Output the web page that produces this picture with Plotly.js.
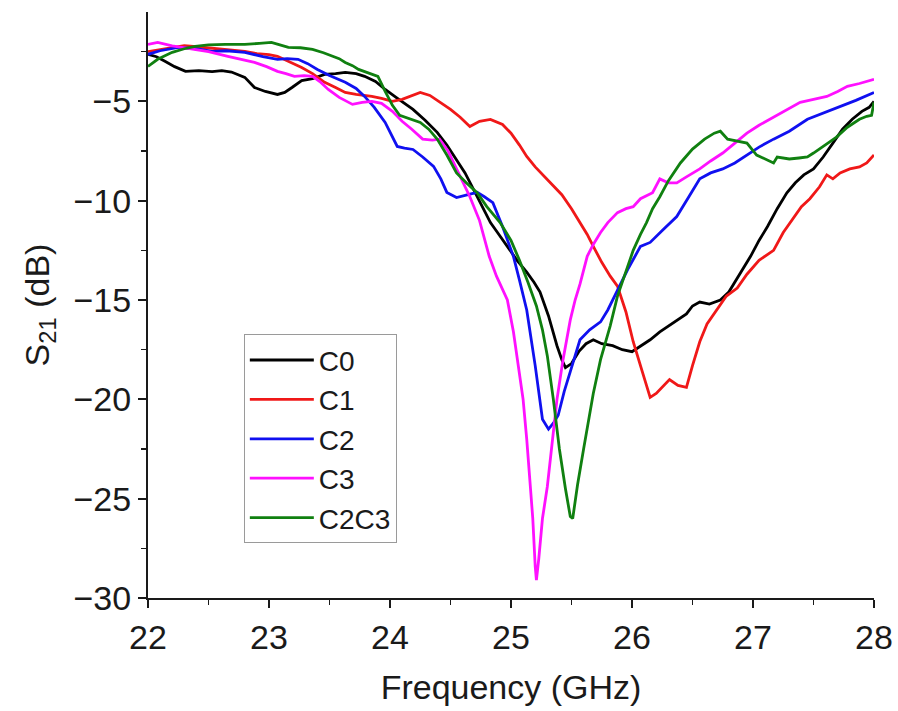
<!DOCTYPE html>
<html>
<head>
<meta charset="utf-8">
<script src="https://cdn.plot.ly/plotly-3.0.1.min.js"></script>
<style>html,body{margin:0;padding:0;background:#fff;}#chart{width:898px;height:711px;}</style>
</head>
<body>
<div id="chart"></div>
<script>
// Series names
const seriesNames = ["C0", "C1", "C2", "C3", "C2C3"];

// C0 (black)
const c0Freq = [22.0, 22.07, 22.14, 22.22, 22.31, 22.42, 22.53, 22.61, 22.69, 22.8, 22.88, 22.97, 23.07, 23.13, 23.19, 23.27, 23.36, 23.46, 23.55, 23.63, 23.72, 23.79, 23.88, 23.96, 24.05, 24.12, 24.19, 24.29, 24.39, 24.47, 24.55, 24.62, 24.69, 24.76, 24.83, 24.9, 24.97, 25.05, 25.13, 25.19, 25.24, 25.31, 25.38, 25.42, 25.45, 25.5, 25.56, 25.62, 25.68, 25.75, 25.84, 25.92, 26.0, 26.08, 26.15, 26.23, 26.3, 26.38, 26.45, 26.5, 26.56, 26.64, 26.73, 26.8, 26.86, 26.92, 26.98, 27.05, 27.12, 27.2, 27.28, 27.35, 27.42, 27.5, 27.58, 27.66, 27.74, 27.82, 27.9, 27.96, 28.0];
const c0S21 = [-2.63, -2.75, -2.98, -3.25, -3.49, -3.45, -3.5, -3.45, -3.52, -3.79, -4.3, -4.5, -4.65, -4.55, -4.3, -3.95, -3.85, -3.64, -3.6, -3.54, -3.6, -3.74, -4.0, -4.4, -4.8, -5.1, -5.4, -5.95, -6.56, -7.2, -7.92, -8.6, -9.43, -10.3, -11.1, -11.7, -12.3, -13.0, -13.6, -14.1, -14.6, -15.8, -17.3, -18.0, -18.4, -18.2, -17.6, -17.2, -17.0, -17.2, -17.3, -17.5, -17.6, -17.3, -17.0, -16.6, -16.3, -16.0, -15.7, -15.3, -15.1, -15.2, -15.0, -14.6, -14.0, -13.4, -12.8, -12.0, -11.3, -10.4, -9.6, -9.1, -8.7, -8.4, -7.8, -7.1, -6.4, -5.9, -5.5, -5.3, -5.0];

// C1 (red)
const c1Freq = [22.0, 22.1, 22.2, 22.3, 22.4, 22.5, 22.6, 22.7, 22.8, 22.9, 23.0, 23.07, 23.17, 23.27, 23.36, 23.46, 23.55, 23.63, 23.72, 23.85, 23.93, 24.02, 24.1, 24.18, 24.25, 24.33, 24.41, 24.5, 24.58, 24.66, 24.74, 24.83, 24.93, 25.0, 25.07, 25.13, 25.2, 25.28, 25.35, 25.42, 25.5, 25.57, 25.63, 25.68, 25.75, 25.82, 25.88, 25.95, 26.01, 26.08, 26.15, 26.2, 26.25, 26.31, 26.38, 26.45, 26.5, 26.56, 26.62, 26.7, 26.78, 26.87, 26.95, 27.05, 27.17, 27.25, 27.33, 27.4, 27.47, 27.55, 27.61, 27.66, 27.72, 27.8, 27.88, 27.94, 28.0];
const c1S21 = [-2.5, -2.4, -2.3, -2.2, -2.25, -2.3, -2.35, -2.4, -2.48, -2.6, -2.65, -2.73, -3.0, -3.29, -3.6, -4.04, -4.3, -4.55, -4.65, -4.75, -4.85, -5.0, -4.9, -4.7, -4.55, -4.7, -5.05, -5.4, -5.8, -6.26, -6.0, -5.91, -6.16, -6.6, -7.2, -7.77, -8.3, -8.8, -9.28, -9.7, -10.4, -11.1, -11.7, -12.3, -13.1, -13.8, -14.3, -15.6, -17.1, -18.5, -19.9, -19.7, -19.4, -19.0, -19.3, -19.4, -18.3, -17.1, -16.2, -15.5, -14.8, -14.4, -13.7, -13.0, -12.5, -11.6, -10.9, -10.3, -9.9, -9.3, -8.7, -8.9, -8.6, -8.4, -8.3, -8.1, -7.7];

// C2 (blue)
const c2Freq = [22.0, 22.1, 22.25, 22.4, 22.53, 22.65, 22.8, 22.95, 23.07, 23.15, 23.24, 23.32, 23.4, 23.5, 23.63, 23.72, 23.79, 23.87, 23.96, 24.06, 24.12, 24.19, 24.27, 24.36, 24.42, 24.47, 24.55, 24.63, 24.72, 24.78, 24.85, 24.93, 25.02, 25.07, 25.13, 25.2, 25.26, 25.31, 25.35, 25.39, 25.44, 25.49, 25.57, 25.65, 25.74, 25.8, 25.88, 25.97, 26.07, 26.15, 26.25, 26.37, 26.47, 26.56, 26.65, 26.75, 26.85, 26.95, 27.05, 27.17, 27.3, 27.45, 27.58, 27.72, 27.85, 28.0];
const c2S21 = [-2.63, -2.45, -2.28, -2.35, -2.48, -2.45, -2.53, -2.75, -2.88, -2.85, -2.88, -3.1, -3.39, -3.7, -4.04, -4.35, -4.75, -5.3, -6.06, -7.27, -7.35, -7.42, -7.8, -8.27, -8.9, -9.58, -9.84, -9.7, -9.58, -9.8, -10.1, -11.3, -12.8, -14.0, -15.5, -18.3, -21.0, -21.5, -21.2, -20.8, -19.6, -18.6, -17.0, -16.5, -16.1, -15.5, -14.5, -13.4, -12.3, -12.1, -11.5, -10.8, -9.8, -8.9, -8.6, -8.4, -8.1, -7.7, -7.3, -6.9, -6.5, -5.9, -5.6, -5.25, -4.95, -4.55];

// C3 (magenta)
const c3Freq = [22.0, 22.08, 22.2, 22.3, 22.39, 22.5, 22.66, 22.78, 22.88, 22.98, 23.07, 23.14, 23.21, 23.29, 23.36, 23.42, 23.49, 23.58, 23.69, 23.77, 23.85, 23.93, 24.02, 24.1, 24.18, 24.27, 24.35, 24.41, 24.48, 24.55, 24.66, 24.74, 24.82, 24.88, 24.93, 24.97, 25.02, 25.06, 25.1, 25.13, 25.16, 25.18, 25.2, 25.21, 25.23, 25.26, 25.3, 25.34, 25.38, 25.43, 25.49, 25.53, 25.57, 25.63, 25.68, 25.74, 25.8, 25.88, 25.95, 26.01, 26.07, 26.17, 26.23, 26.3, 26.37, 26.45, 26.56, 26.65, 26.75, 26.85, 26.95, 27.05, 27.17, 27.28, 27.39, 27.5, 27.61, 27.7, 27.78, 27.88, 28.0];
const c3S21 = [-2.13, -2.03, -2.2, -2.3, -2.38, -2.5, -2.73, -2.9, -3.04, -3.25, -3.49, -3.6, -3.74, -3.7, -3.74, -4.0, -4.4, -4.8, -5.15, -5.05, -5.0, -5.1, -5.5, -6.0, -6.4, -6.9, -6.95, -6.9, -7.5, -8.4, -9.8, -11.0, -12.8, -13.8, -14.5, -15.0, -16.6, -18.2, -20.0, -22.0, -24.2, -26.0, -28.4, -29.1, -28.0, -26.0, -24.4, -22.2, -20.0, -18.0, -16.0, -15.0, -14.2, -12.8, -12.2, -11.6, -11.1, -10.6, -10.4, -10.3, -9.9, -9.6, -8.9, -9.1, -9.1, -8.8, -8.4, -8.0, -7.6, -7.1, -6.6, -6.2, -5.8, -5.4, -5.05, -4.9, -4.75, -4.5, -4.24, -4.1, -3.89];

// C2C3 (green)
const c23Freq = [22.0, 22.08, 22.2, 22.3, 22.39, 22.5, 22.64, 22.8, 22.92, 23.02, 23.09, 23.16, 23.26, 23.36, 23.45, 23.52, 23.58, 23.63, 23.69, 23.74, 23.82, 23.9, 23.96, 24.02, 24.08, 24.17, 24.25, 24.32, 24.39, 24.47, 24.55, 24.63, 24.72, 24.8, 24.91, 25.0, 25.07, 25.14, 25.21, 25.26, 25.3, 25.35, 25.4, 25.45, 25.49, 25.51, 25.55, 25.6, 25.64, 25.68, 25.74, 25.82, 25.88, 25.95, 26.01, 26.07, 26.12, 26.17, 26.23, 26.3, 26.4, 26.5, 26.6, 26.68, 26.73, 26.79, 26.87, 26.95, 27.03, 27.1, 27.17, 27.2, 27.3, 27.38, 27.45, 27.5, 27.6, 27.69, 27.78, 27.88, 27.94, 27.98, 28.0];
const c23S21 = [-3.24, -2.88, -2.53, -2.35, -2.23, -2.15, -2.13, -2.13, -2.08, -2.03, -2.15, -2.28, -2.3, -2.38, -2.55, -2.73, -2.85, -3.04, -3.2, -3.39, -3.55, -3.74, -4.5, -5.2, -5.7, -5.9, -6.06, -6.4, -6.9, -7.7, -8.6, -9.1, -9.6, -10.3, -11.1, -12.0, -13.0, -14.1, -15.3, -16.5, -17.8, -20.0, -22.5, -24.5, -25.9, -26.0, -24.3, -22.5, -21.0, -19.7, -18.0, -16.3, -14.8, -13.6, -12.5, -11.7, -11.1, -10.4, -9.8, -9.0, -8.1, -7.4, -6.9, -6.6, -6.5, -6.9, -7.0, -7.1, -7.7, -7.9, -8.1, -7.8, -7.9, -7.85, -7.8, -7.6, -7.2, -6.8, -6.3, -5.9, -5.75, -5.7, -5.05];

const freqs = [c0Freq, c1Freq, c2Freq, c3Freq, c23Freq];
const vals = [c0S21, c1S21, c2S21, c3S21, c23S21];
const colors = ["#000000", "#f01818", "#1010f0", "#ff10ff", "#108010"];

const traces = seriesNames.map((name, i) => ({
  x: freqs[i], y: vals[i], name: name, type: "scatter", mode: "lines",
  line: {color: colors[i], width: 2.8}
}));

const font = {family: "Liberation Sans, Arial, sans-serif", size: 34, color: "#1a1a1a"};

const layout = {
  width: 898, height: 711,
  margin: {l: 148, r: 24, t: 12, b: 113},
  paper_bgcolor: "#ffffff", plot_bgcolor: "#ffffff",
  font: font,
  showlegend: true,
  legend: {
    x: 0.132, y: 0.45, xanchor: "left", yanchor: "top",
    bgcolor: "#ffffff", bordercolor: "#9a9a9a", borderwidth: 1,
    font: {family: "Liberation Sans, Arial, sans-serif", size: 28, color: "#1a1a1a"},
    traceorder: "normal", itemwidth: 64
  },
  xaxis: {
    range: [22, 28], tick0: 22, dtick: 1,
    showgrid: false, zeroline: false,
    showline: true, linecolor: "#1a1a1a", linewidth: 2,
    ticks: "outside", ticklen: 8, tickwidth: 2, tickcolor: "#1a1a1a",
    minor: {dtick: 0.5, ticklen: 5, tickwidth: 1.5, tickcolor: "#1a1a1a", ticks: "outside", showgrid: false},
    tickfont: font,
    title: {text: "Frequency (GHz)", font: font, standoff: 20}
  },
  yaxis: {
    range: [-30, -0.5], tick0: -30, dtick: 5,
    showgrid: false, zeroline: false,
    showline: true, linecolor: "#1a1a1a", linewidth: 2,
    ticks: "outside", ticklen: 8, tickwidth: 2, tickcolor: "#1a1a1a",
    minor: {dtick: 2.5, ticklen: 5, tickwidth: 1.5, tickcolor: "#1a1a1a", ticks: "outside", showgrid: false},
    tickfont: font,
    title: {text: "S<sub>21</sub> (dB)", font: font, standoff: 14}
  }
};

Plotly.newPlot("chart", traces, layout, {displayModeBar: false, staticPlot: true});
</script>
</body>
</html>
